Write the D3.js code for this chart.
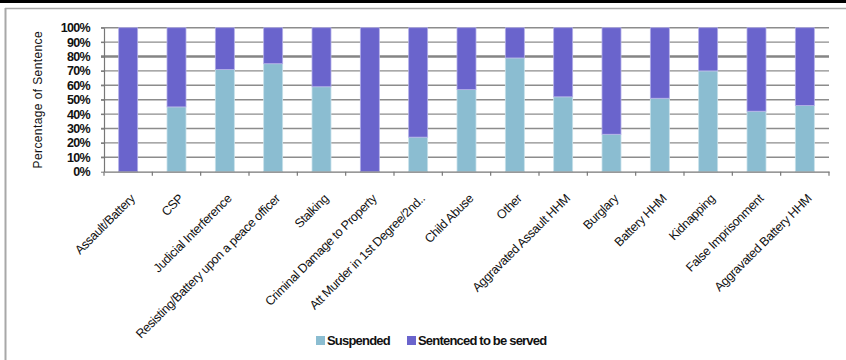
<!DOCTYPE html>
<html>
<head>
<meta charset="utf-8">
<script src="https://cdn.jsdelivr.net/npm/d3@7/dist/d3.min.js"></script>
<style>
  html, body { margin: 0; padding: 0; background: #fff; }
  svg { display: block; font-family: Arial, "Liberation Sans", sans-serif; }
</style>
</head>
<body>
<svg id="chart" width="846" height="360"></svg>
<script>
// Offence categories, in chart order
const categories = [
  "Assault/Battery", "CSP", "Judicial Interference",
  "Resisting/Battery upon a peace officer", "Stalking",
  "Criminal Damage to Property", "Att Murder in 1st Degree/2nd..",
  "Child Abuse", "Other", "Aggravated Assault HHM", "Burglary",
  "Battery HHM", "Kidnapping", "False Imprisonment", "Aggravated Battery HHM"
];

// Share of sentences suspended vs. to be served (percent)
const suspended = [0, 45, 71, 75, 59, 0, 24, 57, 79, 52, 26, 51, 70, 42, 46];
const served    = [100, 55, 29, 25, 41, 100, 76, 43, 21, 48, 74, 49, 30, 58, 54];

const seriesNames = ["Suspended", "Sentenced to be served"];
const yTicks = [0, 10, 20, 30, 40, 50, 60, 70, 80, 90, 100];

const colors = { "Suspended": "#8bbdd1", "Sentenced to be served": "#6a64cc" };

const svg = d3.select("#chart");
const W = 846, H = 360;
const plot = { left: 104, right: 829, top: 27.7, bottom: 171.7 };

// Frame
svg.append("rect").attr("x", 0).attr("y", 0).attr("width", W).attr("height", 3).attr("fill", "#000");
svg.append("line").attr("x1", 5).attr("x2", W).attr("y1", 8.5).attr("y2", 8.5)
  .attr("stroke", "#a8a8a8").attr("stroke-width", 1.5);
svg.append("line").attr("x1", 5.5).attr("x2", 5.5).attr("y1", 8).attr("y2", H)
  .attr("stroke", "#a8a8a8").attr("stroke-width", 2);

const x = d3.scaleBand().domain(categories).range([plot.left, plot.right]).paddingInner(0).paddingOuter(0);
const y = d3.scaleLinear().domain([0, 100]).range([plot.bottom, plot.top]);

// Gridlines
svg.append("g").selectAll("line").data(yTicks.filter(d => d > 0)).join("line")
  .attr("x1", plot.left - 3).attr("x2", plot.right)
  .attr("y1", d => y(d)).attr("y2", d => y(d))
  .attr("stroke", d => d === 80 ? "#858585" : "#8c8c8c")
  .attr("stroke-width", d => d === 80 ? 2.6 : 1.4);

// Stacked bars
const rows = categories.map((c, i) => ({ cat: c, "Suspended": suspended[i], "Sentenced to be served": served[i] }));
const stacked = d3.stack().keys(seriesNames)(rows);
const barW = 19;

svg.append("g").selectAll("g").data(stacked).join("g")
  .attr("fill", d => colors[d.key])
  .selectAll("rect").data(d => d).join("rect")
  .attr("x", d => x(d.data.cat) + x.bandwidth() / 2 - barW / 2)
  .attr("y", d => y(d[1]))
  .attr("width", barW)
  .attr("height", d => y(d[0]) - y(d[1]))
  .attr("stroke", function() { return d3.select(this.parentNode).datum().key === "Suspended" ? "#c8e2ea" : "#b4b0e8"; })
  .attr("stroke-width", 0.8);

// Y axis
const yAxis = svg.append("g").attr("transform", `translate(${plot.left},0)`)
  .call(d3.axisLeft(y).tickValues(yTicks).tickFormat(d => d + "%").tickSize(3).tickSizeOuter(0));
yAxis.select(".domain").attr("stroke", "#777").attr("stroke-width", 1.2);
yAxis.selectAll(".tick line").attr("stroke", "#777");
yAxis.selectAll("text").attr("font-size", 12.5).attr("font-weight", "bold")
  .attr("fill", "#111").attr("x", -14).attr("letter-spacing", -0.7);

// X axis
const xAxis = svg.append("g").attr("transform", `translate(0,${plot.bottom})`)
  .call(d3.axisBottom(x).tickSize(0).tickSizeOuter(0));
xAxis.select(".domain").attr("stroke", "#777").attr("stroke-width", 1.2);
// tick marks at category boundaries
svg.append("g").selectAll("line").data(d3.range(categories.length + 1)).join("line")
  .attr("x1", i => plot.left + i * x.step()).attr("x2", i => plot.left + i * x.step())
  .attr("y1", plot.bottom).attr("y2", plot.bottom + 4)
  .attr("stroke", "#777").attr("stroke-width", 1.2);
xAxis.selectAll(".tick text")
  .attr("font-size", 12.5).attr("fill", "#111")
  .attr("text-anchor", "end")
  .attr("letter-spacing", -0.35)
  .attr("transform", "translate(4.5,24.5) rotate(-45)")
  .attr("dy", "0.35em").attr("y", 0).attr("x", 0);

// Y title
svg.append("text")
  .attr("transform", `translate(42,${(plot.top + plot.bottom) / 2 + 0}) rotate(-90)`)
  .attr("text-anchor", "middle").attr("font-size", 12).attr("fill", "#111")
  .attr("letter-spacing", 0.4)
  .text("Percentage of Sentence");

// Legend
const legend = svg.append("g").attr("transform", "translate(316,336)");
const legendX = [0, 91];
seriesNames.forEach((s, i) => {
  const g = legend.append("g").attr("transform", `translate(${legendX[i]},0)`);
  g.append("rect").attr("width", 9).attr("height", 9).attr("y", 0).attr("fill", colors[s]);
  g.append("text").attr("x", 11).attr("y", 9).attr("font-size", 13).attr("font-weight", "bold")
    .attr("letter-spacing", -0.8).attr("fill", "#111").text(s);
});
</script>
</body>
</html>
